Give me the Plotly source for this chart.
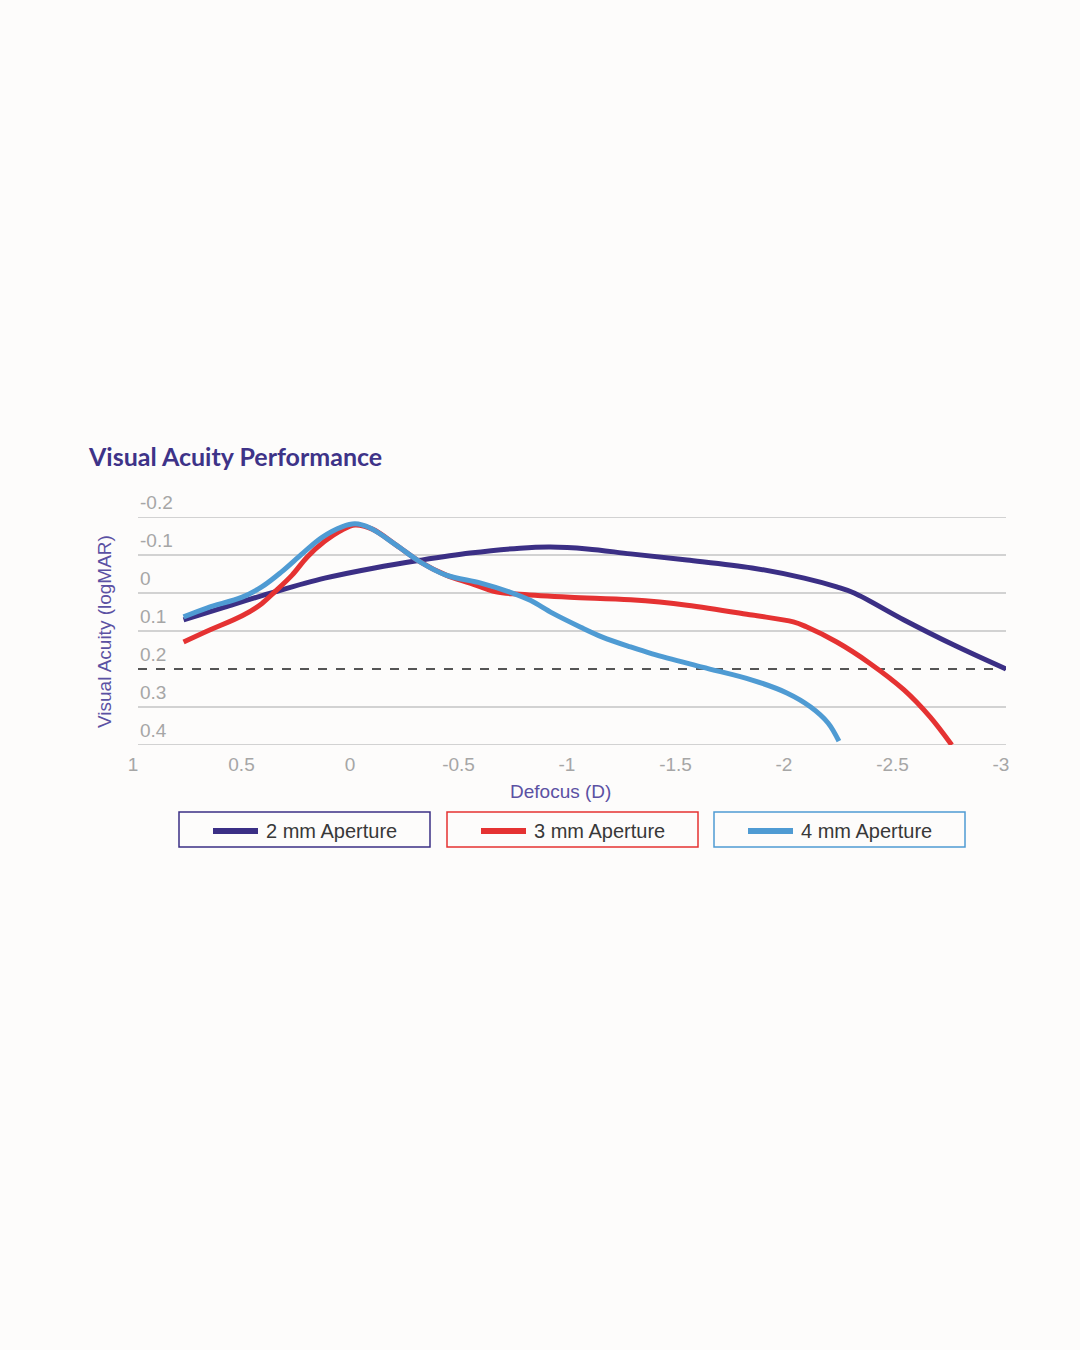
import plotly.graph_objects as go

# defocus (D) / logMAR
defocus_2mm = [0.79, 0.60, 0.37, 0.14, -0.09, -0.30, -0.53, -0.76, -0.90, -1.07, -1.27, -1.53, -1.83,
               -2.07, -2.22, -2.30, -2.53, -2.76, -3.0]
acuity_2mm = [0.071, 0.037, -0.003, -0.039, -0.066, -0.086, -0.105, -0.118, -0.121, -0.116, -0.103, -0.087, -0.066,
              -0.039, -0.016, 0.0, 0.071, 0.137, 0.2]

defocus_3mm = [0.79, 0.68, 0.52, 0.43, 0.37, 0.29, 0.22, 0.14, 0.06, 0.0, -0.08, -0.19, -0.30, -0.42, -0.53,
               -0.65, -0.76, -0.99, -1.27, -1.53, -1.83, -2.02, -2.08, -2.22, -2.37, -2.53, -2.65, -2.75]
acuity_3mm = [0.129, 0.100, 0.060, 0.028, -0.003, -0.047, -0.095, -0.136, -0.166, -0.179, -0.168, -0.126, -0.082,
              -0.047, -0.026, -0.003, 0.003, 0.011, 0.018, 0.032, 0.058, 0.076, 0.089, 0.129, 0.184, 0.255, 0.326, 0.4]

defocus_4mm = [0.79, 0.68, 0.52, 0.43, 0.34, 0.24, 0.15, 0.06, 0.0, -0.07, -0.19, -0.30, -0.42, -0.58, -0.71,
               -0.81, -0.91, -1.04, -1.14, -1.27, -1.37, -1.60, -1.83, -1.99, -2.10, -2.18, -2.23]
acuity_4mm = [0.063, 0.039, 0.011, -0.016, -0.055, -0.105, -0.147, -0.174, -0.182, -0.171, -0.126, -0.082, -0.047,
              -0.026, -0.003, 0.020, 0.053, 0.090, 0.116, 0.142, 0.160, 0.195, 0.229, 0.263, 0.300, 0.342, 0.39]

x_ticks = [1, 0.5, 0, -0.5, -1, -1.5, -2, -2.5, -3]
x_labels = ["1", "0.5", "0", "-0.5", "-1", "-1.5", "-2", "-2.5", "-3"]
y_ticks = [-0.2, -0.1, 0, 0.1, 0.2, 0.3, 0.4]
y_labels = ["-0.2", "-0.1", "0", "0.1", "0.2", "0.3", "0.4"]
threshold = 0.2

series = [
    ("2 mm Aperture", defocus_2mm, acuity_2mm, "#3b2f85"),
    ("3 mm Aperture", defocus_3mm, acuity_3mm, "#e53232"),
    ("4 mm Aperture", defocus_4mm, acuity_4mm, "#4f9bd3"),
]

W, H = 1080, 1350
L, R, T, B = 138, 1006, 517, 745


def px(x):
    return (x - L) / (R - L)


def py(y):
    return (B - y) / (B - T)


fig = go.Figure()

# grid lines (0.2 dashed) and their labels sitting just above each line
shapes = []
annotations = []
for v, lab in zip(y_ticks, y_labels):
    if v == threshold:
        line = dict(color="#555555", width=2, dash="dash")
    else:
        line = dict(color="#d2d2d2", width=2)
    shapes.append(dict(type="line", xref="paper", yref="y", x0=0, x1=1, y0=v, y1=v,
                       line=line, layer="below"))
    annotations.append(dict(text=lab, xref="paper", yref="y", x=0, y=v, xanchor="left",
                            yanchor="middle", yshift=15, showarrow=False,
                            font=dict(size=19, color="#a6a6a6", family="Liberation Sans")))

for name, xs, ys, col in series:
    fig.add_trace(go.Scatter(x=xs, y=ys, mode="lines", name=name,
                             line=dict(color=col, width=5, shape="spline", smoothing=1.0)))

# custom legend boxes
box_left = [179, 447, 714]
for (name, xs, ys, col), bx in zip(series, box_left):
    shapes.append(dict(type="rect", xref="paper", yref="paper",
                       x0=px(bx), x1=px(bx + 251), y0=py(847), y1=py(812),
                       line=dict(color=col, width=1.5)))
    shapes.append(dict(type="line", xref="paper", yref="paper",
                       x0=px(bx + 34), x1=px(bx + 79), y0=py(831), y1=py(831),
                       line=dict(color=col, width=6)))
    annotations.append(dict(text=name, xref="paper", yref="paper", x=px(bx + 85), y=py(831),
                            xanchor="left", yanchor="middle", showarrow=False,
                            font=dict(size=20, color="#383838", family="Liberation Sans")))

annotations.append(dict(text="<b>Visual Acuity Performance</b>", xref="paper", yref="paper",
                        x=px(86), y=py(456), xanchor="left", yanchor="middle", showarrow=False,
                        font=dict(size=25, color="#3e3388", family="Lato")))
annotations.append(dict(text="Visual Acuity (logMAR)", xref="paper", yref="paper",
                        x=px(104), y=py(632), xanchor="center", yanchor="middle", showarrow=False,
                        textangle=-90, font=dict(size=19, color="#5b51a3", family="Liberation Sans")))
annotations.append(dict(text="Defocus (D)", xref="paper", yref="paper",
                        x=px(560), y=py(791), xanchor="center", yanchor="middle", showarrow=False,
                        font=dict(size=19, color="#5b51a3", family="Liberation Sans")))

fig.update_layout(
    width=W, height=H,
    margin=dict(l=L, r=W - R, t=T, b=H - B),
    paper_bgcolor="#fdfcfb",
    plot_bgcolor="#fdfcfb",
    showlegend=False,
    shapes=shapes,
    annotations=annotations,
    font=dict(family="Liberation Sans"),
)
# axis is reversed, so a positive shift moves the labels left
fig.update_xaxes(range=[1, -3], tickvals=x_ticks, ticktext=x_labels, showgrid=False, zeroline=False,
                 showline=False, ticks="", tickfont=dict(size=19, color="#a6a6a6"),
                 ticklabelstandoff=6, ticklabelshift=5)
fig.update_yaxes(range=[0.4, -0.2], showticklabels=False, showgrid=False, zeroline=False,
                 showline=False, ticks="")

fig.write_html("out.html", config={"displayModeBar": False},
               post_script="document.body.style.margin='0';")
